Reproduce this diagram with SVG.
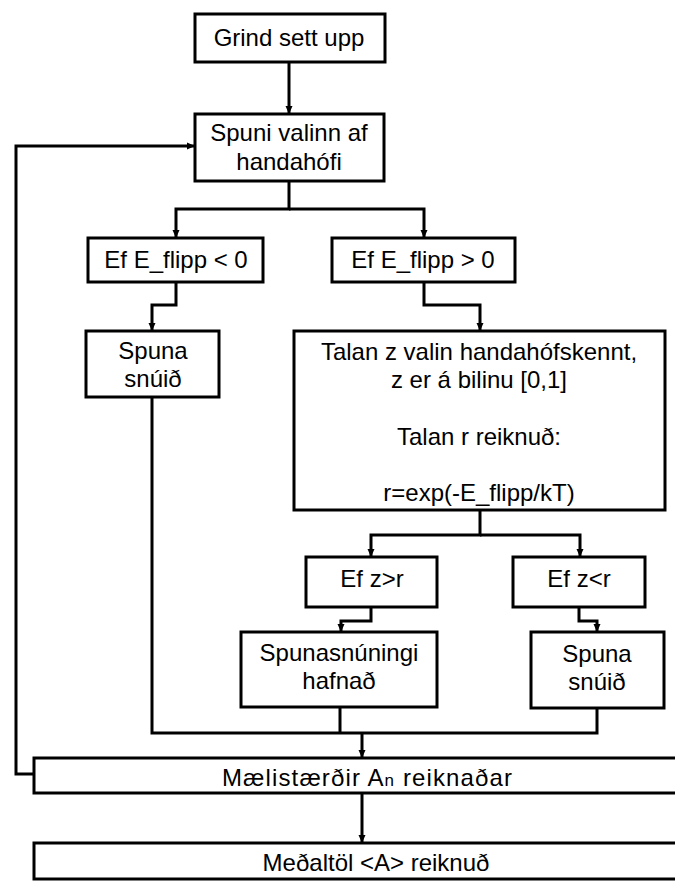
<svg xmlns="http://www.w3.org/2000/svg" width="675" height="882" viewBox="0 0 675 882">
<style>
.box{fill:#fff;stroke:#000;stroke-width:3}
.t{font-family:"Liberation Sans",Arial,sans-serif;font-size:24px;fill:#000;text-anchor:middle}
.c{fill:none;stroke:#000;stroke-width:3;stroke-linejoin:miter}
</style>
<defs>
<marker id="ah" markerUnits="userSpaceOnUse" markerWidth="8" markerHeight="8" refX="7" refY="4" orient="auto">
<path d="M0,0.5 L8,4 L0,7.5 z" fill="#000"/>
</marker>
</defs>
<rect width="675" height="882" fill="#fff"/>
<g id="connectors">
<path class="c" d="M289,62 V113" marker-end="url(#ah)"/>
<path class="c" d="M289,181 V209 H176 V237" marker-end="url(#ah)"/>
<path class="c" d="M289,209 H424 V237" marker-end="url(#ah)"/>
<path class="c" d="M176,282 V305 H152 V330" marker-end="url(#ah)"/>
<path class="c" d="M424,282 V305 H480 V330" marker-end="url(#ah)"/>
<path class="c" d="M480,510 V535 H371 V556" marker-end="url(#ah)"/>
<path class="c" d="M480,535 H580 V556" marker-end="url(#ah)"/>
<path class="c" d="M371,607 V621 H341 V631" marker-end="url(#ah)"/>
<path class="c" d="M579,607 V621 H597 V631" marker-end="url(#ah)"/>
<path class="c" d="M152,397 V733 H597 V708"/>
<path class="c" d="M340,707 V733"/>
<path class="c" d="M362,733 V757" marker-end="url(#ah)"/>
<path class="c" d="M362,793 V842" marker-end="url(#ah)"/>
<path class="c" d="M34,774 H16 V146 H194" marker-end="url(#ah)"/>
</g>
<g id="n1"><rect class="box" x="195" y="14" width="190" height="48"/><text class="t" x="289" y="46">Grind sett upp</text></g>
<g id="n2"><rect class="box" x="195" y="114" width="189" height="67"/><text class="t" x="289" y="141">Spuni valinn af</text><text class="t" x="289" y="170">handahófi</text></g>
<g id="n3"><rect class="box" x="88" y="238" width="175" height="44"/><text class="t" x="176" y="268">Ef E_flipp &lt; 0</text></g>
<g id="n4"><rect class="box" x="332" y="238" width="183" height="44"/><text class="t" x="423" y="268">Ef E_flipp &gt; 0</text></g>
<g id="n5"><rect class="box" x="86" y="331" width="133" height="66"/><text class="t" x="153" y="359">Spuna</text><text class="t" x="153" y="387">snúið</text></g>
<g id="n6"><rect class="box" x="294" y="331" width="371" height="179"/>
<text class="t" x="479" y="360">Talan z valin handahófskennt,</text>
<text class="t" x="479" y="388">z er á bilinu [0,1]</text>
<text class="t" x="479" y="445">Talan r reiknuð:</text>
<text class="t" x="479" y="501">r=exp(-E_flipp/kT)</text></g>
<g id="n7"><rect class="box" x="306" y="557" width="131" height="50"/><text class="t" x="372" y="587">Ef z&gt;r</text></g>
<g id="n8"><rect class="box" x="513" y="557" width="132" height="50"/><text class="t" x="579" y="587">Ef z&lt;r</text></g>
<g id="n9"><rect class="box" x="241" y="632" width="196" height="75"/><text class="t" x="339" y="661">Spunasnúningi</text><text class="t" x="339" y="689">hafnað</text></g>
<g id="n10"><rect class="box" x="531" y="632" width="133" height="76"/><text class="t" x="597" y="662">Spuna</text><text class="t" x="597" y="690">snúið</text></g>
<g id="n11"><rect class="box" x="34" y="758" width="660" height="35"/><text class="t" x="367" y="786" textLength="290" lengthAdjust="spacing">Mælistærðir A<tspan font-size="17">n</tspan> reiknaðar</text></g>
<g id="n12"><rect class="box" x="34" y="843" width="660" height="36"/><text class="t" x="376" y="871">Meðaltöl &lt;A&gt; reiknuð</text></g>
</svg>
